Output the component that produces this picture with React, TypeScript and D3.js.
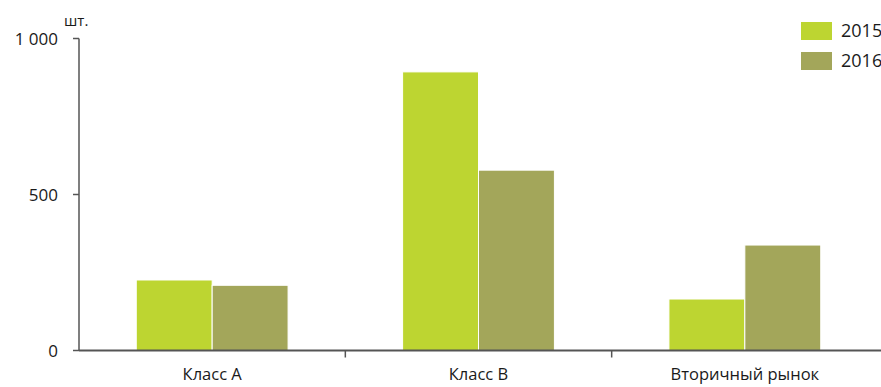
import * as d3 from 'd3';
import React, { useRef, useEffect } from 'react';

// categories and values
const categories = ['Класс А', 'Класс В', 'Вторичный рынок'];
const years = ['2015', '2016'];
const values2015 = [226, 893, 165];
const values2016 = [209, 578, 338];
const yTicks = [0, 500, 1000];
const colors = ['#bdd531', '#a3a65a'];

const App = () => {
    const svgRef = useRef<SVGSVGElement>(null);

    useEffect(() => {
        const width = 881;
        const font = "'Open Sans', 'Noto Sans', sans-serif";
        const textColor = '#1a1a1a';

        const svg = d3.select(svgRef.current);
        svg.selectAll('*').remove();

        const series = [values2015, values2016];

        const x0 = d3.scaleBand<string>()
            .domain(categories)
            .range([79, 878]);
        const groupW = x0.bandwidth() * 0.57;
        const x1 = d3.scaleBand<string>()
            .domain(years)
            .range([0, groupW]);
        const y = d3.scaleLinear()
            .domain([0, 1000])
            .range([350.5, 38.5]);

        // bars
        const groups = svg.append('g')
            .selectAll('g')
            .data(categories)
            .enter().append('g')
            .attr('transform', (d) => `translate(${(x0(d) as number) + (x0.bandwidth() - groupW) / 2},0)`);

        groups.selectAll('rect')
            .data((d, i) => years.map((yr, j) => ({ yr, v: series[j][i], j })))
            .enter().append('rect')
            .attr('x', (d) => x1(d.yr) as number)
            .attr('y', (d) => y(d.v))
            .attr('width', x1.bandwidth())
            .attr('height', (d) => y(0) - y(d.v))
            .attr('fill', (d) => colors[d.j])
            .attr('stroke', '#fff')
            .attr('stroke-width', 1);

        // y axis
        const axisColor = '#555';
        svg.append('line')
            .attr('x1', 79).attr('x2', 79)
            .attr('y1', y(1000)).attr('y2', y(0))
            .attr('stroke', axisColor).attr('stroke-width', 1.5);
        svg.append('g')
            .selectAll('line')
            .data(yTicks)
            .enter().append('line')
            .attr('x1', 73).attr('x2', 79)
            .attr('y1', (d) => y(d)).attr('y2', (d) => y(d))
            .attr('stroke', axisColor).attr('stroke-width', 1.5);
        svg.append('g')
            .selectAll('text')
            .data(yTicks)
            .enter().append('text')
            .attr('x', 58)
            .attr('y', (d) => y(d) + 6.5)
            .attr('text-anchor', 'end')
            .style('font-family', font)
            .style('font-size', '17px')
            .style('fill', textColor)
            .text((d) => d3.format(',')(d).replace(',', ' '));
        svg.append('text')
            .attr('x', 64).attr('y', 26)
            .style('font-family', font)
            .style('font-size', '15px')
            .style('fill', textColor)
            .text('шт.');

        // x axis
        svg.append('line')
            .attr('x1', 79).attr('x2', width)
            .attr('y1', y(0)).attr('y2', y(0))
            .attr('stroke', axisColor).attr('stroke-width', 2);
        svg.append('g')
            .selectAll('line')
            .data(categories.slice(1))
            .enter().append('line')
            .attr('x1', (d) => x0(d) as number).attr('x2', (d) => x0(d) as number)
            .attr('y1', y(0)).attr('y2', y(0) + 7)
            .attr('stroke', axisColor).attr('stroke-width', 1.5);
        svg.append('g')
            .selectAll('text')
            .data(categories)
            .enter().append('text')
            .attr('x', (d) => (x0(d) as number) + x0.bandwidth() / 2)
            .attr('y', 380)
            .attr('text-anchor', 'middle')
            .style('font-family', font)
            .style('font-size', '16.5px')
            .style('fill', textColor)
            .text((d) => d);

        // legend
        const legend = svg.append('g')
            .selectAll('g')
            .data(years)
            .enter().append('g')
            .attr('transform', (d, i) => `translate(801,${22 + i * 30})`);
        legend.append('rect')
            .attr('width', 31).attr('height', 18)
            .attr('fill', (d, i) => colors[i]);
        legend.append('text')
            .attr('x', 40).attr('y', 14.5)
            .style('font-family', font)
            .style('font-size', '18px')
            .style('fill', textColor)
            .text((d) => d);
    }, []);

    return (
        <svg ref={svgRef} width={881} height={387}
            style={{ position: 'absolute', left: 0, top: 0, background: '#fff' }} />
    );
};

export default App;
